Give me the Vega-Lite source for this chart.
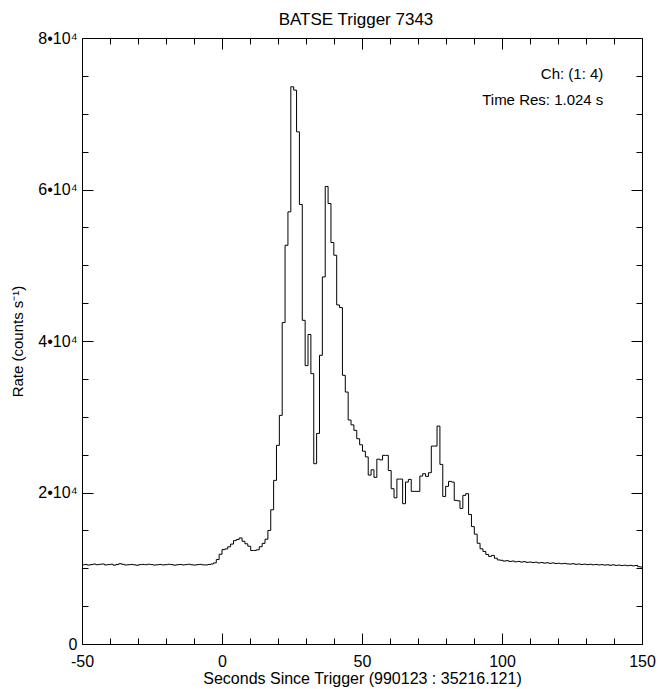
{
  "$schema": "https://vega.github.io/schema/vega-lite/v6.json",
  "width": 560,
  "height": 606,
  "autosize": "none",
  "padding": {"left": 82, "top": 38, "right": 18, "bottom": 45},
  "background": "white",
  "config": {
    "font": "Liberation Sans",
    "view": {"stroke": "black", "strokeWidth": 1},
    "axis": {"grid": false, "domain": false, "tickColor": "black", "tickWidth": 1, "labelColor": "black", "titleColor": "black", "labelFont": "Liberation Sans", "titleFont": "Liberation Sans", "labelFontWeight": "normal", "titleFontWeight": "normal"}
  },
  "title": {"text": "BATSE Trigger 7343", "fontSize": 17, "fontWeight": "normal", "font": "Liberation Sans", "color": "black", "offset": 12, "baseline": "alphabetic", "dy": 24, "dx": -6},
  "data": {"values": [
    {"t": -50.176, "rate": 10450}, {"t": -49.152, "rate": 10500}, {"t": -48.128, "rate": 10420}, {"t": -47.104, "rate": 10480},
    {"t": -46.08, "rate": 10550}, {"t": -45.056, "rate": 10470}, {"t": -44.032, "rate": 10520}, {"t": -43.008, "rate": 10560},
    {"t": -41.984, "rate": 10440}, {"t": -40.96, "rate": 10480}, {"t": -39.936, "rate": 10530}, {"t": -38.912, "rate": 10410},
    {"t": -37.888, "rate": 10490}, {"t": -36.864, "rate": 10600}, {"t": -35.84, "rate": 10520}, {"t": -34.816, "rate": 10430},
    {"t": -33.792, "rate": 10470}, {"t": -32.768, "rate": 10500}, {"t": -31.744, "rate": 10450}, {"t": -30.72, "rate": 10400},
    {"t": -29.696, "rate": 10480}, {"t": -28.672, "rate": 10510}, {"t": -27.648, "rate": 10470}, {"t": -26.624, "rate": 10530},
    {"t": -25.6, "rate": 10480}, {"t": -24.576, "rate": 10420}, {"t": -23.552, "rate": 10460}, {"t": -22.528, "rate": 10500},
    {"t": -21.504, "rate": 10440}, {"t": -20.48, "rate": 10470}, {"t": -19.456, "rate": 10520}, {"t": -18.432, "rate": 10480},
    {"t": -17.408, "rate": 10410}, {"t": -16.384, "rate": 10460}, {"t": -15.36, "rate": 10500}, {"t": -14.336, "rate": 10440},
    {"t": -13.312, "rate": 10480}, {"t": -12.288, "rate": 10530}, {"t": -11.264, "rate": 10460}, {"t": -10.24, "rate": 10420},
    {"t": -9.216, "rate": 10470}, {"t": -8.192, "rate": 10510}, {"t": -7.168, "rate": 10450}, {"t": -6.144, "rate": 10430},
    {"t": -5.12, "rate": 10490}, {"t": -4.096, "rate": 10560}, {"t": -3.072, "rate": 10700}, {"t": -2.048, "rate": 11150},
    {"t": -1.024, "rate": 11850}, {"t": 0.0, "rate": 12460}, {"t": 1.024, "rate": 12550}, {"t": 2.048, "rate": 12830},
    {"t": 3.072, "rate": 13190}, {"t": 4.096, "rate": 13650}, {"t": 5.12, "rate": 13800}, {"t": 6.144, "rate": 14000},
    {"t": 7.168, "rate": 13560}, {"t": 8.192, "rate": 13230}, {"t": 9.216, "rate": 12910}, {"t": 10.24, "rate": 12350},
    {"t": 11.264, "rate": 12350}, {"t": 12.288, "rate": 12440}, {"t": 13.312, "rate": 12840}, {"t": 14.336, "rate": 13280},
    {"t": 15.36, "rate": 13830}, {"t": 16.384, "rate": 14990}, {"t": 17.408, "rate": 17720}, {"t": 18.432, "rate": 21600},
    {"t": 19.456, "rate": 26220}, {"t": 20.48, "rate": 30180}, {"t": 21.504, "rate": 42430}, {"t": 22.528, "rate": 52640},
    {"t": 23.552, "rate": 57050}, {"t": 24.576, "rate": 73560}, {"t": 25.6, "rate": 73120}, {"t": 26.624, "rate": 67610},
    {"t": 27.648, "rate": 58020}, {"t": 28.672, "rate": 42730}, {"t": 29.696, "rate": 36750}, {"t": 30.72, "rate": 40860},
    {"t": 31.744, "rate": 35690}, {"t": 32.768, "rate": 23800}, {"t": 33.792, "rate": 27800}, {"t": 34.816, "rate": 38110},
    {"t": 35.84, "rate": 48460}, {"t": 36.864, "rate": 60400}, {"t": 37.888, "rate": 58150}, {"t": 38.912, "rate": 53000},
    {"t": 39.936, "rate": 51320}, {"t": 40.96, "rate": 44760}, {"t": 41.984, "rate": 44410}, {"t": 43.008, "rate": 35470},
    {"t": 44.032, "rate": 33260}, {"t": 45.056, "rate": 29570}, {"t": 46.08, "rate": 28930}, {"t": 47.104, "rate": 28200},
    {"t": 48.128, "rate": 27100}, {"t": 49.152, "rate": 26300}, {"t": 50.176, "rate": 25450}, {"t": 51.2, "rate": 24700},
    {"t": 52.224, "rate": 22300}, {"t": 53.248, "rate": 23000}, {"t": 54.272, "rate": 22000}, {"t": 55.296, "rate": 24400},
    {"t": 56.32, "rate": 24300}, {"t": 57.344, "rate": 24900}, {"t": 58.368, "rate": 24900}, {"t": 59.392, "rate": 22900},
    {"t": 60.416, "rate": 20500}, {"t": 61.44, "rate": 19300}, {"t": 62.464, "rate": 21770}, {"t": 63.488, "rate": 21770},
    {"t": 64.512, "rate": 18520}, {"t": 65.536, "rate": 21380}, {"t": 66.56, "rate": 21730}, {"t": 67.584, "rate": 20150},
    {"t": 68.608, "rate": 20150}, {"t": 69.632, "rate": 20150}, {"t": 70.656, "rate": 22170}, {"t": 71.68, "rate": 22480},
    {"t": 72.704, "rate": 22130}, {"t": 73.728, "rate": 22610}, {"t": 74.752, "rate": 26130}, {"t": 75.776, "rate": 26130},
    {"t": 76.8, "rate": 28770}, {"t": 77.824, "rate": 23710}, {"t": 78.848, "rate": 19480}, {"t": 79.872, "rate": 20810},
    {"t": 80.896, "rate": 21470}, {"t": 81.92, "rate": 21380}, {"t": 82.944, "rate": 18960}, {"t": 83.968, "rate": 18900},
    {"t": 84.992, "rate": 17900}, {"t": 86.016, "rate": 19620}, {"t": 87.04, "rate": 19840}, {"t": 88.064, "rate": 17100},
    {"t": 89.088, "rate": 15500}, {"t": 90.112, "rate": 14500}, {"t": 91.136, "rate": 13300}, {"t": 92.16, "rate": 12570},
    {"t": 93.184, "rate": 12220}, {"t": 94.208, "rate": 11820}, {"t": 95.232, "rate": 11560}, {"t": 96.256, "rate": 11700},
    {"t": 97.28, "rate": 11330}, {"t": 98.304, "rate": 11100}, {"t": 99.328, "rate": 11050}, {"t": 100.352, "rate": 10950},
    {"t": 101.376, "rate": 11000}, {"t": 102.4, "rate": 10900}, {"t": 103.424, "rate": 10950}, {"t": 104.448, "rate": 10850},
    {"t": 105.472, "rate": 10900}, {"t": 106.496, "rate": 10820}, {"t": 107.52, "rate": 10870}, {"t": 108.544, "rate": 10780},
    {"t": 109.568, "rate": 10820}, {"t": 110.592, "rate": 10750}, {"t": 111.616, "rate": 10800}, {"t": 112.64, "rate": 10700},
    {"t": 113.664, "rate": 10760}, {"t": 114.688, "rate": 10680}, {"t": 115.712, "rate": 10720}, {"t": 116.736, "rate": 10650},
    {"t": 117.76, "rate": 10700}, {"t": 118.784, "rate": 10620}, {"t": 119.808, "rate": 10660}, {"t": 120.832, "rate": 10600},
    {"t": 121.856, "rate": 10640}, {"t": 122.88, "rate": 10580}, {"t": 123.904, "rate": 10550}, {"t": 124.928, "rate": 10600},
    {"t": 125.952, "rate": 10520}, {"t": 126.976, "rate": 10560}, {"t": 128.0, "rate": 10500}, {"t": 129.024, "rate": 10540},
    {"t": 130.048, "rate": 10480}, {"t": 131.072, "rate": 10520}, {"t": 132.096, "rate": 10460}, {"t": 133.12, "rate": 10500},
    {"t": 134.144, "rate": 10440}, {"t": 135.168, "rate": 10480}, {"t": 136.192, "rate": 10420}, {"t": 137.216, "rate": 10460},
    {"t": 138.24, "rate": 10400}, {"t": 139.264, "rate": 10450}, {"t": 140.288, "rate": 10380}, {"t": 141.312, "rate": 10420},
    {"t": 142.336, "rate": 10360}, {"t": 143.36, "rate": 10400}, {"t": 144.384, "rate": 10340}, {"t": 145.408, "rate": 10380},
    {"t": 146.432, "rate": 10320}, {"t": 147.456, "rate": 10360}, {"t": 148.48, "rate": 10200}, {"t": 149.504, "rate": 10150},
    {"t": 150.528, "rate": 10150}
  ]},
  "resolve": {"axis": {"x": "independent", "y": "independent"}},
  "layer": [
    {
      "mark": {"type": "line", "interpolate": "step-after", "color": "black", "strokeWidth": 1, "clip": true},
      "encoding": {
        "x": {"field": "t", "type": "quantitative", "scale": {"domain": [-50, 150], "nice": false, "zero": false},
          "axis": {"orient": "bottom", "values": [-50, 0, 50, 100, 150], "ticks": false, "labelFontSize": 16, "labelPadding": 9, "labelFlush": false, "labelOverlap": false,
            "labelExpr": "datum.value + ''",
            "title": "Seconds Since Trigger (990123 : 35216.121)", "titleFontSize": 16, "titlePadding": 1}},
        "y": {"field": "rate", "type": "quantitative", "scale": {"domain": [0, 80000], "nice": false, "zero": true},
          "axis": {"orient": "left", "values": [0, 20000, 40000, 60000, 80000], "ticks": false, "labelFontSize": 16, "labelPadding": 5, "labelFlush": false, "labelOverlap": false,
            "labelExpr": "datum.value == 0 ? '0' : (datum.value / 10000) + '•10⁴'",
            "title": "Rate (counts s⁻¹)", "titleFontSize": 15, "titlePadding": 12}}
      }
    },
    {
      "mark": {"type": "line", "interpolate": "step-after", "strokeOpacity": 0, "clip": true},
      "encoding": {
        "x": {"field": "t", "type": "quantitative", "axis": {"orient": "bottom", "values": [-50, 0, 50, 100, 150], "labels": false, "tickSize": -11, "title": null}},
        "y": {"field": "rate", "type": "quantitative", "axis": {"orient": "left", "values": [0, 20000, 40000, 60000, 80000], "labels": false, "tickSize": -11, "title": null}}
      }
    },
    {
      "mark": {"type": "line", "interpolate": "step-after", "strokeOpacity": 0, "clip": true},
      "encoding": {
        "x": {"field": "t", "type": "quantitative", "axis": {"orient": "bottom", "values": [-40, -30, -20, -10, 10, 20, 30, 40, 60, 70, 80, 90, 110, 120, 130, 140], "labels": false, "tickSize": -6, "title": null}},
        "y": {"field": "rate", "type": "quantitative", "axis": {"orient": "left", "values": [5000, 10000, 15000, 25000, 30000, 35000, 45000, 50000, 55000, 65000, 70000, 75000], "labels": false, "tickSize": -6, "title": null}}
      }
    },
    {
      "mark": {"type": "line", "interpolate": "step-after", "strokeOpacity": 0, "clip": true},
      "encoding": {
        "x": {"field": "t", "type": "quantitative", "axis": {"orient": "top", "values": [-50, 0, 50, 100, 150], "labels": false, "tickSize": -11, "title": null}},
        "y": {"field": "rate", "type": "quantitative", "axis": {"orient": "right", "values": [0, 20000, 40000, 60000, 80000], "labels": false, "tickSize": -11, "title": null}}
      }
    },
    {
      "mark": {"type": "line", "interpolate": "step-after", "strokeOpacity": 0, "clip": true},
      "encoding": {
        "x": {"field": "t", "type": "quantitative", "axis": {"orient": "top", "values": [-40, -30, -20, -10, 10, 20, 30, 40, 60, 70, 80, 90, 110, 120, 130, 140], "labels": false, "tickSize": -6, "title": null}},
        "y": {"field": "rate", "type": "quantitative", "axis": {"orient": "right", "values": [5000, 10000, 15000, 25000, 30000, 35000, 45000, 50000, 55000, 65000, 70000, 75000], "labels": false, "tickSize": -6, "title": null}}
      }
    },
    {
      "data": {"values": [{"label": "Ch: (1: 4)"}]},
      "mark": {"type": "text", "align": "right", "baseline": "middle", "fontSize": 15, "font": "Liberation Sans", "color": "black"},
      "encoding": {
        "x": {"datum": 136.2, "type": "quantitative", "axis": null},
        "y": {"datum": 75300, "type": "quantitative", "axis": null},
        "text": {"field": "label"}
      }
    },
    {
      "data": {"values": [{"label": "Time Res: 1.024 s"}]},
      "mark": {"type": "text", "align": "right", "baseline": "middle", "fontSize": 15, "font": "Liberation Sans", "color": "black"},
      "encoding": {
        "x": {"datum": 136.2, "type": "quantitative", "axis": null},
        "y": {"datum": 71800, "type": "quantitative", "axis": null},
        "text": {"field": "label"}
      }
    }
  ]
}
